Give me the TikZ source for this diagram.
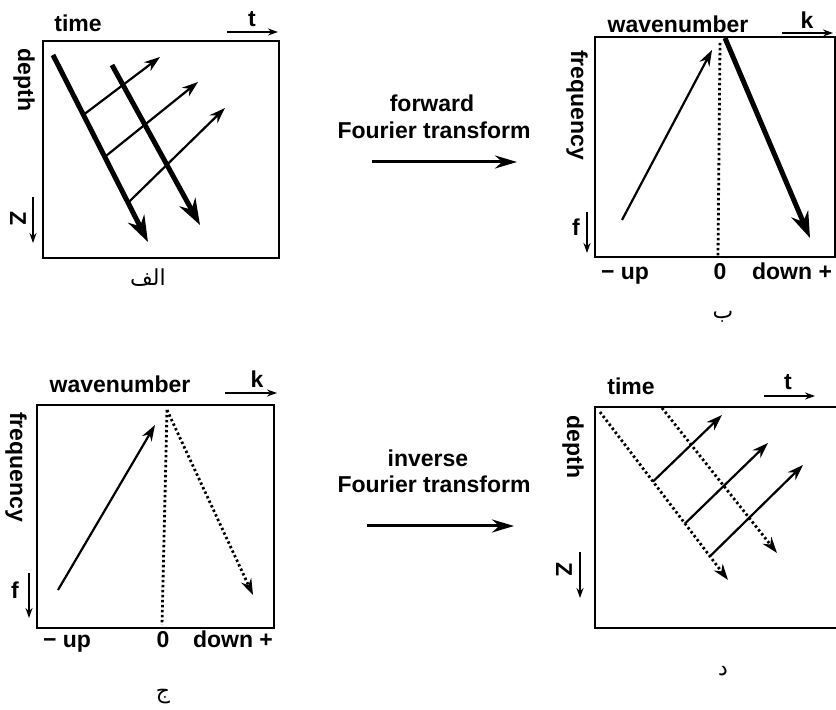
\documentclass[tikz,border=0pt]{standalone}
\usepackage{fontspec}
\setmainfont{Liberation Sans}
\newfontfamily\arabicfont[Script=Arabic]{DejaVu Sans}
\TeXXeTstate=1
\usetikzlibrary{calc,arrows.meta}

\begin{document}
\begin{tikzpicture}[x=0.5pt,y=-0.5pt,
	txt/.style={font=\fontsize{11.5}{13}\selectfont\bfseries,inner sep=0pt},
	artxt/.style={font=\arabicfont\fontsize{11}{13}\selectfont,inner sep=0pt},
	panel/.style={line width=1.3pt},
	ray/.style={line width=1.1pt,-{Stealth[length=8pt,width=5.5pt]}},
	heavy/.style={line width=2.5pt,-{Stealth[length=13pt,width=9pt]}},
	dotline/.style={line width=1.4pt,dash pattern=on 1.2pt off 1.3pt},
	axisarrow/.style={line width=0.9pt,-{Stealth[length=5pt,width=3.5pt]}},
	ftarrow/.style={line width=1.5pt,-{Stealth[length=11pt,width=6.5pt]}}]
				\useasboundingbox (0,0) rectangle (836,710);
				\coordinate (A1) at (43,41);
				\coordinate (A2) at (279,258);
				\coordinate (P1) at (53,55);
				\coordinate (P2) at (148,242);
				\coordinate (Q1) at (112,65);
				\coordinate (Q2) at (200,225);
				\coordinate (R1) at (160,57);
				\coordinate (R2) at (198,82);
				\coordinate (R3) at (225,108);
				\draw[panel] (A1) rectangle (A2);
				\draw[heavy] (P1)--(P2);
				\draw[heavy] (Q1)--(Q2);
				\draw[ray] ($(P1)!0.32!(P2)$)--(R1);
				\draw[ray] ($(P1)!0.545!(P2)$)--(R2);
				\draw[ray] ($(P1)!0.79!(P2)$)--(R3);
				\coordinate (At1) at (227,32);
				\coordinate (At2) at (278,32);
				\coordinate (Az1) at (33,197);
				\coordinate (Az2) at (33,243);
				\draw[axisarrow] (At1)--(At2);
				\draw[axisarrow] (Az1)--(Az2);
				\node[txt,anchor=base] (Atime) at (78,32) {time};
				\node[txt,anchor=base] (At) at (252,27) {t};
				\node[txt,rotate=-90] (Adepth) at (24,80) {depth};
				\node[txt,rotate=-90] (Az) at (18,219) {Z};
				\node[artxt] (Alab) at (148,278) {\beginR الف\endR};
				\coordinate (B1) at (595,37);
				\coordinate (B2) at (835,257);
				\coordinate (B0) at (720,43);
				\coordinate (B3) at (718,257);
				\coordinate (B4) at (622,220);
				\coordinate (B5) at (712,50);
				\coordinate (B6) at (725,38);
				\coordinate (B7) at (810,238);
				\draw[panel] (B1) rectangle (B2);
				\draw[dotline] (B0)--(B3);
				\draw[ray] (B4)--(B5);
				\draw[heavy] (B6)--(B7);
				\coordinate (Bk1) at (782,33);
				\coordinate (Bk2) at (833,33);
				\coordinate (Bf1) at (587,212);
				\coordinate (Bf2) at (587,253);
				\draw[axisarrow] (Bk1)--(Bk2);
				\draw[axisarrow] (Bf1)--(Bf2);
				\node[txt,anchor=base] (Bwave) at (678,33) {wavenumber};
				\node[txt,anchor=base] (Bk) at (807,29) {k};
				\node[txt,rotate=-90] (Bfreq) at (577,105) {frequency};
				\node[txt] (Bf) at (576,227) {f};
				\node[txt,anchor=base] (Bup) at (625,280) {− up};
				\node[txt,anchor=base] (Bzero) at (720,280) {0};
				\node[txt,anchor=base] (Bdown) at (792,280) {down +};
				\node[artxt] (Blab) at (723,317) {\beginR ب\endR};
				\coordinate (C1) at (37,405);
				\coordinate (C2) at (274,628);
				\coordinate (C0) at (167,410);
				\coordinate (C3) at (162,625);
				\coordinate (C4) at (58,590);
				\coordinate (C5) at (155,425);
				\coordinate (C6) at (253,595);
				\draw[panel] (C1) rectangle (C2);
				\draw[dotline] (C0)--(C3);
				\draw[ray] (C4)--(C5);
				\draw[dotline,-{Stealth[length=8pt,width=5.5pt]}] (C0)--(C6);
				\coordinate (Ck1) at (225,393);
				\coordinate (Ck2) at (277,393);
				\coordinate (Cf1) at (29,573);
				\coordinate (Cf2) at (29,618);
				\draw[axisarrow] (Ck1)--(Ck2);
				\draw[axisarrow] (Cf1)--(Cf2);
				\node[txt,anchor=base] (Cwave) at (120,393) {wavenumber};
				\node[txt,anchor=base] (Ck) at (257,388) {k};
				\node[txt,rotate=-90] (Cfreq) at (16,467) {frequency};
				\node[txt] (Cf) at (15,590) {f};
				\node[txt,anchor=base] (Cup) at (67,648) {− up};
				\node[txt,anchor=base] (Czero) at (163,648) {0};
				\node[txt,anchor=base] (Cdown) at (233,648) {down +};
				\node[artxt] (Clab) at (163,697) {\beginR ج\endR};
				\coordinate (D1) at (836,407);
				\coordinate (D2) at (595,407);
				\coordinate (D3) at (595,628);
				\coordinate (D4) at (836,628);
				\coordinate (S1) at (600,412);
				\coordinate (S2) at (728,580);
				\coordinate (T1) at (662,408);
				\coordinate (T2) at (777,553);
				\coordinate (U1) at (722,415);
				\coordinate (U2) at (768,443);
				\coordinate (U3) at (803,465);
				\draw[panel] (D1)--(D2)--(D3)--(D4);
				\draw[dotline,-{Stealth[length=8pt,width=5.5pt]}] (S1)--(S2);
				\draw[dotline,-{Stealth[length=8pt,width=5.5pt]}] (T1)--(T2);
				\draw[ray] ($(S1)!0.414!(S2)$)--(U1);
				\draw[ray] ($(S1)!0.664!(S2)$)--(U2);
				\draw[ray] ($(S1)!0.859!(S2)$)--(U3);
				\coordinate (Dt1) at (764,396);
				\coordinate (Dt2) at (815,396);
				\coordinate (Dz1) at (580,552);
				\coordinate (Dz2) at (580,598);
				\draw[axisarrow] (Dt1)--(Dt2);
				\draw[axisarrow] (Dz1)--(Dz2);
				\node[txt,anchor=base] (Dtime) at (631,395) {time};
				\node[txt,anchor=base] (Dt) at (788,390) {t};
				\node[txt,rotate=-90] (Ddepth) at (573,447) {depth};
				\node[txt,rotate=-90] (Dz) at (564,570) {Z};
				\node[artxt] (Dlab) at (723,671) {\beginR د\endR};
				\coordinate (F1) at (372,162);
				\coordinate (F2) at (517,162);
				\coordinate (G1) at (367,526);
				\coordinate (G2) at (514,526);
				\draw[ftarrow] (F1)--(F2);
				\draw[ftarrow] (G1)--(G2);
				\node[txt,anchor=base] (fwd) at (432,112) {forward};
				\node[txt,anchor=base] (fwdft) at (434,139) {Fourier transform};
				\node[txt,anchor=base] (inv) at (428,467) {inverse};
				\node[txt,anchor=base] (invft) at (434,493) {Fourier transform};
			\end{tikzpicture}
\end{document}
